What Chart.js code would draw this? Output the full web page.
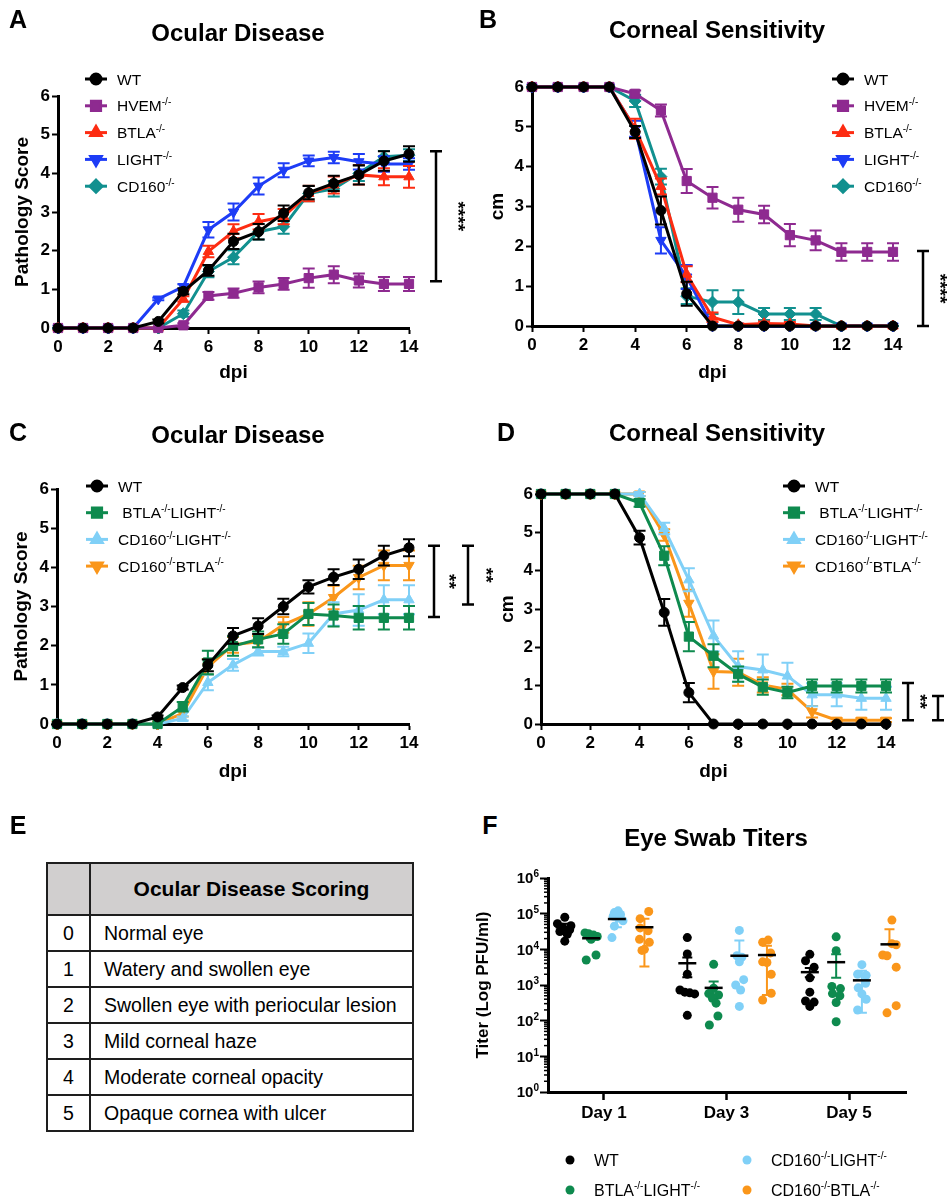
<!DOCTYPE html>
<html>
<head>
<meta charset="utf-8">
<script src="https://cdn.jsdelivr.net/npm/chart.js@4.4.0/dist/chart.umd.min.js"></script>
<style>
  body { margin: 0; background: #fff; font-family: "Liberation Sans", Arial, sans-serif; }
  #page { position: relative; width: 948px; height: 1200px; overflow: hidden; background: #fff; }
  canvas { position: absolute; }
  .lbl { position: absolute; transform: translate(-50%, -50%); font-weight: bold; white-space: nowrap; color: #000; }
  .letter { font-size: 25px; }
  .title { font-size: 24px; }
  #scoreTable { position: absolute; left: 46px; top: 862px; width: 368px; border-collapse: collapse; color: #000; }
  #scoreTable th, #scoreTable td { border: 2px solid #1e1e1e; padding: 0; }
  #scoreTable th { height: 50px; background: #d1cfcf; font-size: 21px; font-weight: bold; }
  #scoreTable td { height: 34px; font-size: 19.5px; }
  #scoreTable td.num { width: 41px; text-align: center; }
  #scoreTable td.txt { padding-left: 13px; }
</style>
</head>
<body>
<div id="page">
  <canvas id="chartA" width="474" height="400" style="left:0px;top:0px;width:474px;height:400px"></canvas>
  <canvas id="chartB" width="474" height="400" style="left:474px;top:0px;width:474px;height:400px"></canvas>
  <canvas id="chartC" width="500" height="400" style="left:0px;top:400px;width:500px;height:400px"></canvas>
  <canvas id="chartD" width="474" height="400" style="left:474px;top:400px;width:474px;height:400px"></canvas>
  <canvas id="chartF" width="478" height="350" style="left:470px;top:850px;width:478px;height:350px"></canvas>

  <div class="lbl letter" style="left:18px;top:19px">A</div>
  <div class="lbl letter" style="left:488px;top:19px">B</div>
  <div class="lbl letter" style="left:18px;top:432px">C</div>
  <div class="lbl letter" style="left:506px;top:432px">D</div>
  <div class="lbl letter" style="left:18px;top:825px">E</div>
  <div class="lbl letter" style="left:490px;top:825px">F</div>

  <div class="lbl title" style="left:238px;top:33px">Ocular Disease</div>
  <div class="lbl title" style="left:717px;top:30px">Corneal Sensitivity</div>
  <div class="lbl title" style="left:238px;top:435px">Ocular Disease</div>
  <div class="lbl title" style="left:717px;top:433px">Corneal Sensitivity</div>
  <div class="lbl title" style="left:716px;top:838px">Eye Swab Titers</div>

  <table id="scoreTable"></table>
</div>

<script>
// ---- data ----
const dpi = [0, 1, 2, 3, 4, 5, 6, 7, 8, 9, 10, 11, 12, 13, 14];

// A: pathology score, single knockouts
const aWT      = [0, 0, 0, 0, 0.17, 0.95, 1.49, 2.24, 2.49, 2.97, 3.5, 3.74, 3.96, 4.32, 4.5];
const aWTErr   = [0, 0, 0, 0, 0.05, 0.08, 0.14, 0.2, 0.2, 0.2, 0.17, 0.2, 0.25, 0.25, 0.2];
const aHVEM    = [0, 0, 0, 0, 0, 0.07, 0.83, 0.9, 1.05, 1.14, 1.29, 1.38, 1.23, 1.14, 1.14];
const aHVEMErr = [0, 0, 0, 0, 0, 0.05, 0.1, 0.12, 0.15, 0.15, 0.25, 0.22, 0.18, 0.18, 0.18];
const aBTLA    = [0, 0, 0, 0, 0, 0.75, 1.98, 2.5, 2.75, 2.88, 3.48, 3.7, 3.96, 3.91, 3.91];
const aBTLAErr = [0, 0, 0, 0, 0, 0.07, 0.15, 0.18, 0.2, 0.2, 0.2, 0.22, 0.25, 0.22, 0.28];
const aLIGHT   = [0, 0, 0, 0, 0.75, 1.07, 2.54, 3.0, 3.67, 4.08, 4.32, 4.41, 4.3, 4.24, 4.24];
const aLIGHTErr= [0, 0, 0, 0, 0.03, 0.06, 0.2, 0.22, 0.22, 0.18, 0.14, 0.15, 0.2, 0.2, 0.15];
const aCD160   = [0, 0, 0, 0, 0, 0.37, 1.46, 1.83, 2.49, 2.62, 3.48, 3.6, 4.0, 4.43, 4.47];
const aCD160Err= [0, 0, 0, 0, 0, 0.08, 0.15, 0.18, 0.2, 0.18, 0.2, 0.2, 0.2, 0.15, 0.15];

// B: corneal sensitivity (cm), single knockouts
const bWT      = [6, 6, 6, 6, 4.87, 2.9, 0.81, 0, 0, 0, 0, 0, 0, 0, 0];
const bWTErr   = [0, 0, 0, 0, 0.15, 0.35, 0.3, 0, 0, 0, 0, 0, 0, 0, 0];
const bHVEM    = [6, 6, 6, 6, 5.83, 5.41, 3.64, 3.22, 2.92, 2.8, 2.28, 2.15, 1.86, 1.86, 1.86];
const bHVEMErr = [0, 0, 0, 0, 0.08, 0.15, 0.3, 0.27, 0.3, 0.22, 0.28, 0.25, 0.22, 0.22, 0.22];
const bBTLA    = [6, 6, 6, 6, 4.95, 3.5, 1.3, 0.22, 0.03, 0.06, 0.05, 0, 0, 0, 0];
const bBTLAErr = [0, 0, 0, 0, 0.25, 0.2, 0.2, 0.12, 0.03, 0.05, 0.05, 0, 0, 0, 0];
const bLIGHT   = [6, 6, 6, 6, 4.95, 2.15, 1.23, 0, 0, 0, 0, 0, 0, 0, 0];
const bLIGHTErr= [0, 0, 0, 0, 0.2, 0.33, 0.3, 0, 0, 0, 0, 0, 0, 0, 0];
const bCD160   = [6, 6, 6, 6, 5.65, 3.75, 0.75, 0.6, 0.6, 0.3, 0.3, 0.3, 0, 0, 0];
const bCD160Err= [0, 0, 0, 0, 0.15, 0.2, 0.2, 0.3, 0.3, 0.15, 0.15, 0.15, 0, 0, 0];

// C: pathology score, double knockouts
const cWT      = [0, 0, 0, 0, 0.18, 0.93, 1.5, 2.25, 2.5, 3.0, 3.5, 3.75, 3.95, 4.3, 4.5];
const cWTErr   = [0, 0, 0, 0, 0.04, 0.05, 0.15, 0.2, 0.2, 0.2, 0.17, 0.2, 0.25, 0.25, 0.22];
const cBL      = [0, 0, 0, 0, 0, 0.44, 1.57, 1.99, 2.16, 2.3, 2.81, 2.77, 2.71, 2.71, 2.71];
const cBLErr   = [0, 0, 0, 0, 0, 0.12, 0.3, 0.25, 0.2, 0.25, 0.28, 0.28, 0.3, 0.3, 0.3];
const cCL      = [0, 0, 0, 0, 0, 0.14, 1.06, 1.51, 1.85, 1.85, 2.06, 2.81, 2.91, 3.17, 3.17];
const cCLErr   = [0, 0, 0, 0, 0, 0.05, 0.2, 0.15, 0.1, 0.12, 0.25, 0.3, 0.4, 0.37, 0.37];
const cCB      = [0, 0, 0, 0, 0, 0.27, 1.46, 2.02, 2.1, 2.53, 2.81, 3.23, 3.74, 4.05, 4.05];
const cCBErr   = [0, 0, 0, 0, 0, 0.08, 0.2, 0.2, 0.15, 0.2, 0.3, 0.3, 0.3, 0.38, 0.38];

// D: corneal sensitivity (cm), double knockouts
const dWT      = [6, 6, 6, 6, 4.86, 2.91, 0.82, 0, 0, 0, 0, 0, 0, 0, 0];
const dWTErr   = [0, 0, 0, 0, 0.18, 0.35, 0.25, 0, 0, 0, 0, 0, 0, 0, 0];
const dBL      = [6, 6, 6, 6, 5.77, 4.39, 2.28, 1.78, 1.3, 0.96, 0.82, 0.99, 0.99, 0.99, 0.99];
const dBLErr   = [0, 0, 0, 0, 0.1, 0.25, 0.38, 0.3, 0.2, 0.2, 0.15, 0.17, 0.17, 0.17, 0.17];
const dCL      = [6, 6, 6, 6, 6.0, 5.1, 3.76, 2.3, 1.5, 1.41, 1.25, 0.76, 0.76, 0.67, 0.67];
const dCLErr   = [0, 0, 0, 0, 0.05, 0.15, 0.3, 0.4, 0.4, 0.4, 0.35, 0.3, 0.3, 0.3, 0.3];
const dCB      = [6, 6, 6, 6, 6.0, 4.93, 3.15, 1.37, 1.35, 1.02, 0.9, 0.32, 0.1, 0.1, 0.1];
const dCBErr   = [0, 0, 0, 0, 0.05, 0.15, 0.35, 0.45, 0.35, 0.2, 0.15, 0.15, 0.05, 0.05, 0.05];

// E: scoring table
const scoreLevels = ['0', '1', '2', '3', '4', '5'];
const scoreText = ['Normal eye', 'Watery and swollen eye', 'Swollen eye with periocular lesion',
                   'Mild corneal haze', 'Moderate corneal opacity', 'Opaque cornea with ulcer'];

// F: eye swab titers, log10 PFU/ml per mouse, [day1, day3, day5]
const fDays = ['Day 1', 'Day 3', 'Day 5'];
const fDayPos = [1, 2, 3];
const fGroupOffset = [-0.32, -0.105, 0.105, 0.33];
const fWT = [[4.90, 4.72, 4.66, 4.62, 4.55, 4.50, 4.42, 4.23],
             [4.33, 3.87, 3.30, 2.86, 2.80, 2.78, 2.75, 2.15],
             [3.86, 3.68, 3.50, 3.20, 2.80, 2.55, 2.52, 2.40]];
const fBL = [[4.46, 4.44, 4.40, 4.36, 4.32, 4.28, 3.84, 3.70],
             [3.58, 2.91, 2.76, 2.72, 2.63, 2.49, 2.13, 1.88],
             [4.35, 3.96, 2.96, 2.90, 2.76, 2.70, 2.51, 1.97]];
const fCL = [[5.08, 5.03, 4.98, 4.93, 4.88, 4.80, 4.65, 4.33],
             [4.53, 3.82, 3.78, 3.65, 3.15, 3.00, 2.86, 2.40],
             [3.57, 3.30, 3.27, 3.05, 2.92, 2.75, 2.60, 2.30]];
const fCB = [[5.06, 4.86, 4.60, 4.52, 4.28, 4.20, 4.00, 3.97],
             [4.26, 4.20, 3.90, 3.65, 3.63, 3.30, 2.77, 2.58],
             [4.82, 4.16, 4.13, 3.84, 3.82, 3.50, 2.42, 2.22]];
// horizontal scatter of the dots, in x-axis units
const fWTJit = [[0, -0.06, 0.05, -0.02, 0.04, -0.04, 0.02, 0],
                [0, 0, 0, -0.06, -0.02, 0.02, 0.06, 0],
                [0, -0.035, 0.035, 0, 0, -0.035, 0.035, 0]];
const fBLJit = [[-0.05, -0.02, 0.02, 0.05, 0, 0, 0.04, -0.04],
                [0, 0, -0.04, 0.04, -0.01, 0.02, 0.035, -0.035],
                [0, 0, -0.035, 0.035, -0.03, 0.03, 0, 0]];
const fCLJit = [[0.01, -0.02, 0.03, -0.03, 0.01, 0.05, -0.02, -0.04],
                [0, -0.02, 0.02, 0, 0.035, -0.03, 0.01, 0],
                [0, -0.035, 0.035, 0.03, -0.03, 0, 0.035, -0.035]];
const fCBJit = [[0.035, -0.035, -0.035, 0.03, -0.04, 0.04, 0, -0.02],
                [0.01, -0.035, 0.03, -0.035, 0, 0.035, 0.035, -0.035],
                [0.02, 0.02, 0.055, -0.055, -0.02, 0.055, 0.055, -0.02]];
// group mean and error bar ends (log10), null = bar end not shown
const fMean = [[4.62, 3.61, 3.36], [4.31, 2.92, 3.64], [4.85, 3.82, 3.13], [4.62, 3.84, 4.14]];
const fLow  = [[4.52, 3.22, 3.22], [4.27, 2.72, 3.20], [4.62, null, 2.22], [3.52, 2.72, null]];
const fHigh = [[4.72, 3.77, 3.48], [4.36, 3.10, 3.86], [4.98, 4.25, 3.40], [4.86, 4.10, 4.56]];

// ---- colours ----
const BLACK = '#000000', PURPLE = '#8e2a90', RED = '#fd2c12', BLUE = '#1d3cf6', TEAL = '#11908f';
const GREEN = '#0e8a4e', SKY = '#80d0f7', ORANGE = '#fa961a';

const FONT = '"Liberation Sans", Arial, sans-serif';
Chart.defaults.font.family = FONT;
Chart.defaults.color = '#000';

// text with {superscript} parts
function richText(ctx, text, x, y, size, weight, align) {
  const parts = [];
  text.split(/(\{[^}]*\})/).forEach(p => {
    if (!p) return;
    if (p[0] === '{') parts.push([p.slice(1, -1), true]);
    else parts.push([p, false]);
  });
  const supSize = Math.round(size * 0.64);
  const fnt = s => `${weight} ${s}px ${FONT}`;
  let total = 0;
  parts.forEach(([t, sup]) => { ctx.font = fnt(sup ? supSize : size); total += ctx.measureText(t).width; });
  let cx = align === 'right' ? x - total : align === 'center' ? x - total / 2 : x;
  const base = y + size * 0.36;
  ctx.textAlign = 'left';
  ctx.textBaseline = 'alphabetic';
  parts.forEach(([t, sup]) => {
    ctx.font = fnt(sup ? supSize : size);
    ctx.fillText(t, cx, sup ? base - size * 0.4 : base);
    cx += ctx.measureText(t).width;
  });
}

// error bars drawn under each dataset
const errorBars = {
  id: 'errorBars',
  beforeDatasetDraw(chart, args) {
    const ds = chart.data.datasets[args.index];
    if (!ds.errors) return;
    const ctx = chart.ctx, y = chart.scales.y;
    ctx.save();
    ctx.strokeStyle = ds.borderColor;
    ctx.lineWidth = 2;
    args.meta.data.forEach((pt, i) => {
      const e = ds.errors[i];
      if (!e) return;
      const v = ds.data[i].y;
      const yt = y.getPixelForValue(v + e), yb = y.getPixelForValue(v - e);
      ctx.beginPath();
      ctx.moveTo(pt.x, yt); ctx.lineTo(pt.x, yb);
      ctx.moveTo(pt.x - 6, yt); ctx.lineTo(pt.x + 6, yt);
      ctx.moveTo(pt.x - 6, yb); ctx.lineTo(pt.x + 6, yb);
      ctx.stroke();
    });
    ctx.restore();
  }
};

// legend with line + marker samples
const lineLegend = {
  id: 'lineLegend',
  afterDraw(chart, args, opts) {
    const ctx = chart.ctx;
    ctx.save();
    chart.data.datasets.forEach((ds, i) => {
      const y = opts.y0 + i * opts.dy;
      ctx.strokeStyle = ds.borderColor;
      ctx.fillStyle = ds.borderColor;
      ctx.lineWidth = 3;
      ctx.beginPath(); ctx.moveTo(opts.x0, y); ctx.lineTo(opts.x0 + 22, y); ctx.stroke();
      Chart.helpers.drawPoint(ctx, { pointStyle: ds.pointStyle, rotation: ds.pointRotation || 0,
        radius: ds.pointRadius, borderWidth: 1 }, opts.x0 + 11, y);
      ctx.fillStyle = '#000';
      richText(ctx, ds.label, opts.x0 + 32, y, 15.5, 'normal', 'left');
    });
    ctx.restore();
  }
};

// significance brackets right of the plot
const brackets = {
  id: 'brackets',
  afterDraw(chart, args, opts) {
    const ctx = chart.ctx, y = chart.scales.y, r = chart.chartArea.right;
    ctx.save();
    ctx.strokeStyle = '#000'; ctx.fillStyle = '#000'; ctx.lineWidth = 2.5;
    (opts.list || []).forEach(b => {
      const x = r + b.dx, y1 = y.getPixelForValue(b.to), y2 = y.getPixelForValue(b.from);
      ctx.beginPath();
      ctx.moveTo(x, y1); ctx.lineTo(x, y2);
      ctx.moveTo(x - 6, y1); ctx.lineTo(x + 6, y1);
      ctx.moveTo(x - 6, y2); ctx.lineTo(x + 6, y2);
      ctx.stroke();
      ctx.save();
      ctx.translate(r + b.ldx, (y1 + y2) / 2);
      ctx.rotate(Math.PI / 2);
      ctx.font = `bold 19px ${FONT}`;
      ctx.textAlign = 'center'; ctx.textBaseline = 'middle';
      ctx.fillText(b.label, 0, 0);
      ctx.restore();
    });
    ctx.restore();
  }
};

function makeSeries(label, values, errs, color, style, radius, rot) {
  return {
    label: label,
    data: dpi.map((d, i) => ({ x: d, y: values[i] })),
    errors: errs,
    borderColor: color,
    backgroundColor: color,
    borderWidth: 3,
    pointStyle: style,
    pointRadius: radius,
    pointRotation: rot || 0,
    pointBorderWidth: 1,
    tension: 0,
    clip: false,
  };
}

function lineChart(id, series, o) {
  const canvas = document.getElementById(id);
  const W = canvas.width, H = canvas.height;
  const tickFont = { size: 17, weight: 'bold', family: FONT };
  const titleFont = { size: 19, weight: 'bold', family: FONT };
  return new Chart(canvas, {
    type: 'line',
    data: { datasets: series },
    options: {
      responsive: false,
      animation: false,
      events: [],
      layout: { padding: { left: 0, right: W - o.area.right, top: o.area.top, bottom: 0 } },
      plugins: {
        legend: { display: false },
        tooltip: { enabled: false },
        lineLegend: o.legend,
        brackets: { list: o.brackets },
      },
      scales: {
        x: {
          type: 'linear', min: 0, max: 14,
          ticks: { stepSize: 2, font: tickFont, color: '#000', padding: 3, maxRotation: 0 },
          grid: { drawOnChartArea: false, tickLength: 6, tickWidth: 2, tickColor: '#000' },
          border: { width: 3, color: '#000' },
          title: { display: true, text: 'dpi', font: titleFont, color: '#000', padding: { top: 0, bottom: o.xTitlePad } },
          afterFit: s => { s.height = H - o.area.bottom; },
        },
        y: {
          min: 0, max: 6,
          ticks: { stepSize: 1, font: tickFont, color: '#000', padding: 2 },
          grid: { drawOnChartArea: false, tickLength: 6, tickWidth: 2, tickColor: '#000' },
          border: { width: 3, color: '#000' },
          title: { display: true, text: o.yTitle, font: titleFont, color: '#000', padding: { top: o.yTitlePad, bottom: 0 } },
          afterFit: s => { s.width = o.area.left; },
        },
      },
    },
    plugins: [errorBars, lineLegend, brackets],
  });
}

// ---- panel A ----
lineChart('chartA', [
  makeSeries('WT', aWT, aWTErr, BLACK, 'circle', 5),
  makeSeries('HVEM{-/-}', aHVEM, aHVEMErr, PURPLE, 'rect', 6.5),
  makeSeries('BTLA{-/-}', aBTLA, aBTLAErr, RED, 'triangle', 6),
  makeSeries('LIGHT{-/-}', aLIGHT, aLIGHTErr, BLUE, 'triangle', 6, 180),
  makeSeries('CD160{-/-}', aCD160, aCD160Err, TEAL, 'rectRot', 6),
], {
  area: { left: 58, right: 409, top: 96, bottom: 328 },
  yTitle: 'Pathology Score', yTitlePad: 11, xTitlePad: 16,
  legend: { x0: 85, y0: 79, dy: 26.8 },
  brackets: [{ dx: 27, from: 1.21, to: 4.57, label: '****', ldx: 48 }],
});

// ---- panel B ----
lineChart('chartB', [
  makeSeries('WT', bWT, bWTErr, BLACK, 'circle', 5),
  makeSeries('HVEM{-/-}', bHVEM, bHVEMErr, PURPLE, 'rect', 6.5),
  makeSeries('BTLA{-/-}', bBTLA, bBTLAErr, RED, 'triangle', 6),
  makeSeries('LIGHT{-/-}', bLIGHT, bLIGHTErr, BLUE, 'triangle', 6, 180),
  makeSeries('CD160{-/-}', bCD160, bCD160Err, TEAL, 'rectRot', 6),
], {
  area: { left: 58, right: 419, top: 87, bottom: 326 },
  yTitle: 'cm', yTitlePad: 12, xTitlePad: 16,
  legend: { x0: 358, y0: 79, dy: 26.8 },
  brackets: [{ dx: 30, from: 0, to: 1.88, label: '****', ldx: 46 }],
});

// ---- panel C ----
lineChart('chartC', [
  makeSeries('WT', cWT, cWTErr, BLACK, 'circle', 5),
  makeSeries(' BTLA{-/-}LIGHT{-/-}', cBL, cBLErr, GREEN, 'rect', 6.5),
  makeSeries('CD160{-/-}LIGHT{-/-}', cCL, cCLErr, SKY, 'triangle', 6),
  makeSeries('CD160{-/-}BTLA{-/-}', cCB, cCBErr, ORANGE, 'triangle', 6, 180),
], {
  area: { left: 57, right: 409, top: 89, bottom: 324 },
  yTitle: 'Pathology Score', yTitlePad: 10, xTitlePad: 17,
  legend: { x0: 86, y0: 86, dy: 26.7 },
  brackets: [
    { dx: 25, from: 2.73, to: 4.55, label: '**', ldx: 39 },
    { dx: 59, from: 3.05, to: 4.55, label: '**', ldx: 76 },
  ],
});

// ---- panel D ----
lineChart('chartD', [
  makeSeries('WT', dWT, dWTErr, BLACK, 'circle', 5),
  makeSeries(' BTLA{-/-}LIGHT{-/-}', dBL, dBLErr, GREEN, 'rect', 6.5),
  makeSeries('CD160{-/-}LIGHT{-/-}', dCL, dCLErr, SKY, 'triangle', 6),
  makeSeries('CD160{-/-}BTLA{-/-}', dCB, dCBErr, ORANGE, 'triangle', 6, 180),
], {
  area: { left: 67, right: 412, top: 94, bottom: 324 },
  yTitle: 'cm', yTitlePad: 22, xTitlePad: 17,
  legend: { x0: 309, y0: 86, dy: 26.7 },
  brackets: [
    { dx: 22, from: 0.1, to: 1.07, label: '**', ldx: 33 },
    { dx: 52, from: 0.1, to: 0.73, label: '*', ldx: 64 },
  ],
});

// ---- panel E ----
(function buildTable() {
  const t = document.getElementById('scoreTable');
  let html = '<tr><th style="width:41px"></th><th>Ocular Disease Scoring</th></tr>';
  scoreLevels.forEach((lv, i) => {
    html += `<tr><td class="num">${lv}</td><td class="txt">${scoreText[i]}</td></tr>`;
  });
  t.innerHTML = html;
})();

// ---- panel F ----
const fGroups = [
  { label: 'WT', vals: fWT, jit: fWTJit, color: BLACK },
  { label: 'BTLA{-/-}LIGHT{-/-}', vals: fBL, jit: fBLJit, color: GREEN },
  { label: 'CD160{-/-}LIGHT{-/-}', vals: fCL, jit: fCLJit, color: SKY },
  { label: 'CD160{-/-}BTLA{-/-}', vals: fCB, jit: fCBJit, color: ORANGE },
];

const fStats = {
  id: 'fStats',
  afterDatasetsDraw(chart) {
    const { ctx, scales: { x, y } } = chart;
    ctx.save();
    fGroups.forEach((g, gi) => {
      fDayPos.forEach((d, k) => {
        const cx = x.getPixelForValue(d + fGroupOffset[gi]);
        const ym = y.getPixelForValue(Math.pow(10, fMean[gi][k]));
        const yt = y.getPixelForValue(Math.pow(10, fHigh[gi][k]));
        const lo = fLow[gi][k];
        const yb = lo === null ? ym : y.getPixelForValue(Math.pow(10, lo));
        ctx.strokeStyle = g.color; ctx.lineWidth = 2;
        ctx.beginPath();
        ctx.moveTo(cx, yt); ctx.lineTo(cx, yb);
        ctx.moveTo(cx - 5, yt); ctx.lineTo(cx + 5, yt);
        if (lo !== null) { ctx.moveTo(cx - 5, yb); ctx.lineTo(cx + 5, yb); }
        ctx.stroke();
        ctx.strokeStyle = '#000'; ctx.lineWidth = 2.5;
        ctx.beginPath(); ctx.moveTo(cx - 9, ym); ctx.lineTo(cx + 9, ym); ctx.stroke();
      });
    });
    ctx.restore();
  },
  afterDraw(chart) {
    const { ctx, scales: { y }, chartArea } = chart;
    ctx.save();
    // minor log ticks
    ctx.strokeStyle = '#000'; ctx.lineWidth = 1.5;
    for (let k = 0; k < 6; k++) {
      for (let m = 2; m < 10; m++) {
        const py = y.getPixelForValue(m * Math.pow(10, k));
        ctx.beginPath(); ctx.moveTo(chartArea.left - 4, py); ctx.lineTo(chartArea.left, py); ctx.stroke();
      }
    }
    // power-of-ten labels
    ctx.fillStyle = '#000';
    y.ticks.forEach(t => {
      const exp = Math.round(Math.log10(t.value));
      richText(ctx, '10{' + exp + '}', chartArea.left - 9, y.getPixelForValue(t.value), 15, 'bold', 'right');
    });
    // legend
    const spots = [[100, 310], [100, 340], [277, 310], [277, 340]];
    fGroups.forEach((g, i) => {
      const [lx, ly] = spots[i];
      ctx.fillStyle = g.color;
      ctx.beginPath(); ctx.arc(lx, ly, 4.5, 0, Math.PI * 2); ctx.fill();
      ctx.fillStyle = '#000';
      richText(ctx, g.label, lx + 24, ly, 16, 'normal', 'left');
    });
    ctx.restore();
  }
};

new Chart(document.getElementById('chartF'), {
  type: 'scatter',
  data: {
    datasets: fGroups.map((g, gi) => ({
      label: g.label,
      data: fDayPos.flatMap((d, k) => g.vals[k].map((v, i) => ({
        x: d + fGroupOffset[gi] + g.jit[k][i], y: Math.pow(10, v) }))),
      backgroundColor: g.color,
      borderColor: g.color,
      pointRadius: 4.5,
      pointBorderWidth: 0,
    })),
  },
  options: {
    responsive: false,
    animation: false,
    events: [],
    layout: { padding: { left: 0, right: 42, top: 28, bottom: 0 } },
    plugins: { legend: { display: false }, tooltip: { enabled: false } },
    scales: {
      x: {
        type: 'linear', min: 0.543, max: 3.465,
        afterBuildTicks: s => { s.ticks = fDayPos.map(v => ({ value: v })); },
        ticks: { callback: (v, i) => fDays[i], font: { size: 17, weight: 'bold', family: FONT }, color: '#000', padding: 3, maxRotation: 0 },
        grid: { drawOnChartArea: false, tickLength: 8, tickWidth: 2.5, tickColor: '#000' },
        border: { width: 3, color: '#000' },
        afterFit: s => { s.height = 108; },
      },
      y: {
        type: 'logarithmic', min: 1, max: 1e6,
        afterBuildTicks: s => { s.ticks = [1, 10, 100, 1e3, 1e4, 1e5, 1e6].map(v => ({ value: v, major: true })); },
        ticks: { callback: () => '' },
        grid: { drawOnChartArea: false, tickLength: 8, tickWidth: 2, tickColor: '#000' },
        border: { width: 3, color: '#000' },
        title: { display: true, text: 'Titer (Log PFU/ml)', font: { size: 17, weight: 'bold', family: FONT }, color: '#000', padding: { top: 3, bottom: 0 } },
        afterFit: s => { s.width = 78; },
      },
    },
  },
  plugins: [fStats],
});
</script>
</body>
</html>
